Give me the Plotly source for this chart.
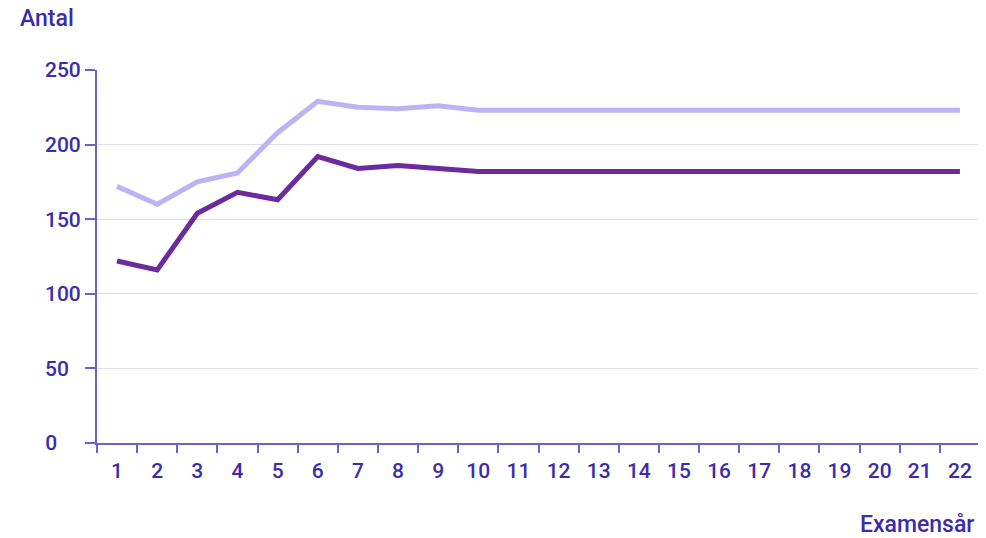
"""Line chart: antal per examensår."""

import plotly.graph_objects as go

examensar = [str(i) for i in range(1, 23)]
serie_ljus = [172, 160, 175, 181, 208, 229, 225, 224, 226, 223, 223, 223,
              223, 223, 223, 223, 223, 223, 223, 223, 223, 223]
serie_mork = [122, 116, 154, 168, 163, 192, 184, 186, 184, 182, 182, 182,
              182, 182, 182, 182, 182, 182, 182, 182, 182, 182]
y_ticks = [0, 50, 100, 150, 200, 250]
# pad with figure spaces so labels look left aligned
y_ticktext = ["0\u2007\u2007", "50\u2007", "100", "150", "200", "250"]

TEXT = "#3a2caa"
AXIS = "#6a62d2"
GRID = "#dddde8"
FONT = "Roboto"
FONT_SIZE = 21
TITLE_SIZE = 23

# page body has an 8px margin, so the figure is a bit smaller than the window
W, H = 978, 530

fig = go.Figure()
fig.add_trace(
    go.Scatter(
        x=examensar,
        y=serie_ljus,
        mode="lines",
        line={"color": "#bcb3f4", "width": 5},
        showlegend=False,
    )
)
fig.add_trace(
    go.Scatter(
        x=examensar,
        y=serie_mork,
        mode="lines",
        line={"color": "#6b2b9c", "width": 5},
        showlegend=False,
    )
)

fig.update_xaxes(
    type="category",
    tickson="boundaries",
    ticks="outside",
    ticklen=8,
    tickwidth=2,
    tickcolor=AXIS,
    showline=True,
    linecolor=AXIS,
    linewidth=2,
    showgrid=False,
    tickfont={"family": FONT, "size": FONT_SIZE, "color": TEXT, "weight": 500},
    ticklabelstandoff=8,
    range=[-0.5, 21.5],
)
fig.update_yaxes(
    range=[0, 250],
    tickvals=y_ticks,
    ticktext=y_ticktext,
    ticks="outside",
    ticklen=10,
    tickwidth=2,
    tickcolor=AXIS,
    showline=True,
    linecolor=AXIS,
    linewidth=2,
    gridcolor=GRID,
    gridwidth=1,
    zeroline=False,
    tickfont={"family": FONT, "size": FONT_SIZE, "color": TEXT, "weight": 500},
    ticklabelstandoff=0,
)

fig.add_shape(
    type="line",
    xref="paper",
    yref="paper",
    x0=1,
    x1=1,
    y0=0,
    y1=1,
    line={"color": GRID, "width": 1},
)
fig.add_annotation(
    text="Examensår",
    xref="paper",
    yref="paper",
    x=1,
    y=-0.225,
    xanchor="right",
    yanchor="middle",
    xshift=-4,
    yshift=2,
    showarrow=False,
    font={"family": FONT, "size": TITLE_SIZE, "color": TEXT, "weight": 500},
)

fig.update_layout(
    width=W,
    height=H,
    title={
        "text": "Antal",
        "x": 12 / W,
        "y": 1,
        "xanchor": "left",
        "yanchor": "top",
        "xref": "container",
        "yref": "container",
        "pad": {"t": 2},
        "font": {"family": FONT, "size": TITLE_SIZE, "color": TEXT, "weight": 500},
    },
    margin={"l": 89, "r": 6, "t": 62, "b": 95},
    plot_bgcolor="white",
    paper_bgcolor="white",
)

fig.write_html("out.html")
